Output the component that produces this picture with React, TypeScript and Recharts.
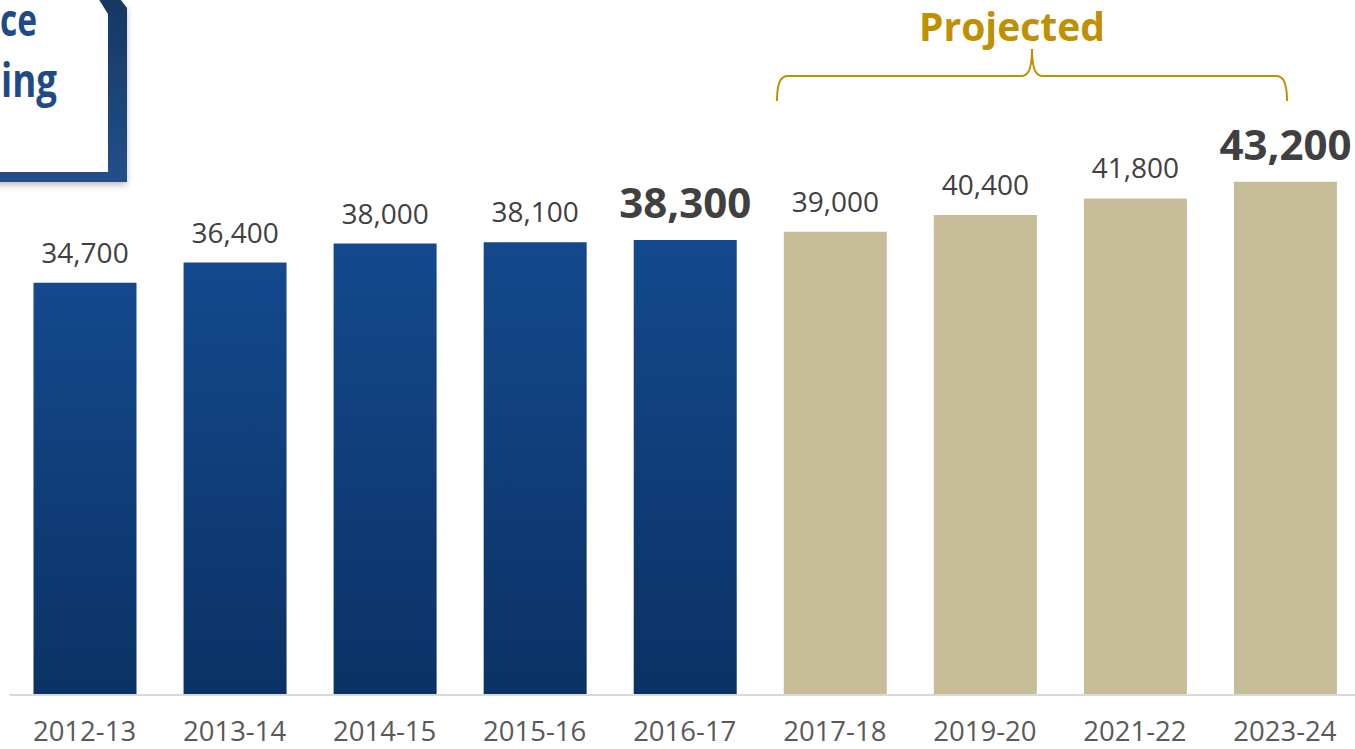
import { BarChart, Bar, XAxis, YAxis, Cell, LabelList } from "recharts";

const years = [
  "2012-13",
  "2013-14",
  "2014-15",
  "2015-16",
  "2016-17",
  "2017-18",
  "2019-20",
  "2021-22",
  "2023-24",
];
const values = [34700, 36400, 38000, 38100, 38300, 39000, 40400, 41800, 43200];
const projected = [false, false, false, false, false, true, true, true, true];
const highlight = [false, false, false, false, true, false, false, false, true];

const data = years.map((year, i) => ({
  year,
  value: values[i],
  projected: projected[i],
  highlight: highlight[i],
}));

const FONT = "'Open Sans', 'Noto Sans', sans-serif";

function YearTick(props: any) {
  const { x, y, payload } = props;
  return (
    <text
      x={x}
      y={y}
      dy={46}
      textAnchor="middle"
      fill="#595959"
      fontSize={27.5}
      fontFamily={FONT}
    >
      {payload.value}
    </text>
  );
}

function ValueLabel(props: any) {
  const { x, y, width, value, index } = props;
  const bold = highlight[index];
  return (
    <text
      x={x + width / 2}
      y={y - (bold ? 22 : 20)}
      textAnchor="middle"
      fill="#404040"
      fontSize={bold ? 42 : 28}
      fontWeight={bold ? 700 : 400}
      fontFamily={FONT}
    >
      {Number(value).toLocaleString("en-US")}
    </text>
  );
}

export default function App() {
  return (
    <div
      style={{
        position: "absolute",
        left: 0,
        top: 0,
        width: 1355,
        height: 749,
        overflow: "hidden",
        background: "#fff",
      }}
    >
      <BarChart
        width={1360}
        height={749}
        data={data}
        margin={{ top: 101, right: 0, left: 9.5, bottom: 0 }}
      >
        <defs>
          <linearGradient id="blueBar" x1="0" y1="0" x2="0" y2="1">
            <stop offset="0%" stopColor="#14498e" />
            <stop offset="100%" stopColor="#0b3264" />
          </linearGradient>
        </defs>
        <YAxis hide domain={[0, 50000]} />
        <XAxis
          dataKey="year"
          axisLine={{ stroke: "#d9d9d9", strokeWidth: 2 }}
          tickLine={false}
          tickSize={0}
          tickMargin={0}
          interval={0}
          height={54}
          tick={<YearTick />}
        />
        <Bar dataKey="value" barSize={103} isAnimationActive={false}>
          {data.map((d, i) => (
            <Cell key={i} fill={d.projected ? "#c6bd98" : "url(#blueBar)"} />
          ))}
          <LabelList dataKey="value" content={<ValueLabel />} />
        </Bar>
      </BarChart>

      <svg
        width={1355}
        height={749}
        style={{ position: "absolute", left: 0, top: 0, pointerEvents: "none" }}
      >
        <defs>
          <linearGradient id="frameBlue" x1="0" y1="0" x2="0" y2="1">
            <stop offset="0%" stopColor="#16365f" />
            <stop offset="100%" stopColor="#224f8a" />
          </linearGradient>
          <filter id="soft" x="-20%" y="-20%" width="140%" height="140%">
            <feDropShadow dx="0" dy="3" stdDeviation="3" floodColor="#000" floodOpacity="0.25" />
          </filter>
        </defs>
        {/* callout box, cut off on the left */}
        <path
          d="M-20,-10 L113,-10 L127,8 L127,182 L-20,182 Z"
          fill="url(#frameBlue)"
          filter="url(#soft)"
        />
        <path d="M-20,-10 L93,-10 L108,14 L108,172 L-20,172 Z" fill="#ffffff" />
        <text
          x={0}
          y={36}
          textLength={37}
          lengthAdjust="spacingAndGlyphs"
          fill="#1e4b85"
          fontSize={44}
          fontWeight={700}
          fontFamily={FONT}
        >
          ce
        </text>
        <text
          x={1}
          y={97}
          textLength={56}
          lengthAdjust="spacingAndGlyphs"
          fill="#1e4b85"
          fontSize={46}
          fontWeight={700}
          fontFamily={FONT}
        >
          ing
        </text>

        {/* projected bracket */}
        <text
          x={1012}
          y={41}
          textAnchor="middle"
          fill="#bf9000"
          fontSize={39}
          fontWeight={700}
          fontFamily={FONT}
        >
          Projected
        </text>
        <path
          d="M777,101 Q777,76 787,76 L1022,76 Q1032,76 1032,49 Q1032,76 1042,76 L1277,76 Q1287,76 1287,101"
          fill="none"
          stroke="#bf9000"
          strokeWidth={2}
        />
      </svg>
    </div>
  );
}
